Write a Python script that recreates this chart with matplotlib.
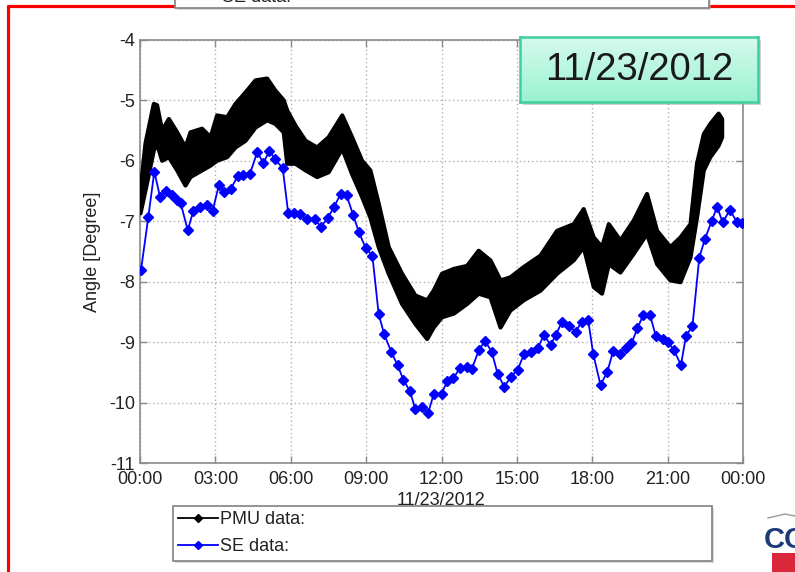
import matplotlib
matplotlib.use("Agg")
import matplotlib.pyplot as plt
import numpy as np
from matplotlib.lines import Line2D
from matplotlib.patches import Rectangle

plt.rcParams['font.family'] = ['Liberation Sans', 'DejaVu Sans']
plt.rcParams['axes.unicode_minus'] = False

# ---- data -------------------------------------------------------------
# State-estimator samples (hour of day, angle in degrees)
se_hours = [0.04, 0.33, 0.57, 0.80, 1.03, 1.29, 1.46, 1.62, 1.90, 2.12, 2.39, 2.65,
            2.89, 3.14, 3.36, 3.62, 3.89, 4.11, 4.38, 4.67, 4.91, 5.15, 5.37, 5.68,
            5.90, 6.14, 6.37, 6.63, 6.96, 7.20, 7.47, 7.72, 7.99, 8.22, 8.49, 8.71,
            8.98, 9.25, 9.50, 9.72, 10.00, 10.25, 10.48, 10.74, 10.96, 11.21, 11.47,
            11.69, 12.00, 12.23, 12.47, 12.73, 13.00, 13.20, 13.49, 13.73, 14.00,
            14.23, 14.50, 14.76, 15.03, 15.28, 15.56, 15.83, 16.08, 16.34, 16.55,
            16.80, 17.07, 17.34, 17.58, 17.84, 18.04, 18.33, 18.60, 18.83, 19.10,
            19.34, 19.56, 19.80, 20.03, 20.30, 20.53, 20.80, 21.00, 21.25, 21.53,
            21.73, 21.99, 22.26, 22.48, 22.75, 22.97, 23.19, 23.48, 23.75, 23.98]
se_angle = [-7.81, -6.93, -6.18, -6.60, -6.50, -6.57, -6.65, -6.70, -7.15, -6.83, -6.76, -6.73,
            -6.83, -6.40, -6.51, -6.46, -6.25, -6.24, -6.21, -5.85, -6.04, -5.83, -5.97, -6.12,
            -6.87, -6.87, -6.88, -6.97, -6.97, -7.09, -6.95, -6.76, -6.55, -6.57, -6.90, -7.18,
            -7.44, -7.57, -8.54, -8.87, -9.16, -9.38, -9.62, -9.81, -10.11, -10.07, -10.17,
            -9.86, -9.85, -9.65, -9.60, -9.43, -9.41, -9.45, -9.13, -8.98, -9.16,
            -9.52, -9.74, -9.57, -9.46, -9.20, -9.16, -9.10, -8.88, -9.05, -8.88,
            -8.66, -8.73, -8.83, -8.66, -8.64, -9.20, -9.71, -9.49, -9.15, -9.19,
            -9.09, -9.02, -8.77, -8.55, -8.55, -8.90, -8.94, -8.99, -9.13, -9.38,
            -8.90, -8.73, -7.60, -7.30, -7.00, -6.76, -7.02, -6.81, -7.01, -7.03]

# PMU measurements: upper / lower extent of the dense trace per hour
pmu_hours = [0.00, 0.20, 0.53, 0.66, 0.86, 1.13, 1.46, 1.79, 1.99, 2.45, 2.79, 3.05,
             3.45, 3.78, 4.18, 4.58, 5.04, 5.37, 5.70, 5.84, 6.17, 6.57, 7.03, 7.49,
             8.03, 8.42, 8.82, 9.15, 9.48, 9.88, 10.41, 10.94, 11.41, 11.67, 12.00,
             12.47, 13.00, 13.46, 13.93, 14.33, 14.72, 15.25, 15.92, 16.58, 17.24,
             17.64, 18.04, 18.37, 18.64, 19.10, 19.63, 20.16, 20.56, 21.09, 21.49,
             21.89, 22.15, 22.42, 22.68, 23.01, 23.15]
pmu_upper = [-6.48, -5.70, -5.05, -5.07, -5.49, -5.30, -5.52, -5.77, -5.52, -5.46, -5.60, -5.24,
             -5.27, -5.05, -4.86, -4.66, -4.63, -4.83, -4.99, -5.16, -5.41, -5.66, -5.77, -5.60,
             -5.24, -5.60, -5.99, -6.15, -6.70, -7.42, -7.86, -8.22, -8.30, -8.14, -7.86,
             -7.78, -7.73, -7.48, -7.64, -7.97, -7.92, -7.75, -7.56, -7.15, -7.04,
             -6.79, -7.26, -7.42, -7.04, -7.31, -6.98, -6.54, -7.15, -7.42, -7.26,
             -7.04, -6.04, -5.55, -5.38, -5.21, -5.30]
pmu_lower = [-6.86, -6.48, -5.82, -5.71, -5.99, -5.93, -6.15, -6.40, -6.26, -6.15, -6.07, -5.99,
             -5.93, -5.77, -5.66, -5.44, -5.32, -5.38, -5.52, -6.04, -6.04, -6.15, -6.26, -6.18,
             -5.79, -6.21, -6.59, -6.93, -7.42, -7.86, -8.36, -8.69, -8.94, -8.75, -8.58,
             -8.52, -8.36, -8.19, -8.25, -8.75, -8.47, -8.30, -8.14, -7.86, -7.64,
             -7.42, -8.08, -8.19, -7.70, -7.84, -7.53, -7.20, -7.70, -7.97, -8.00,
             -7.59, -6.93, -6.15, -5.93, -5.74, -5.60]

x_ticks = [0, 3, 6, 9, 12, 15, 18, 21, 24]
x_tick_labels = ["00:00", "03:00", "06:00", "09:00", "12:00", "15:00", "18:00", "21:00", "00:00"]
y_ticks = [-11, -10, -9, -8, -7, -6, -5, -4]
date_label = "11/23/2012"
legend_labels = ["PMU data:", "SE data:"]

# ---- figure -----------------------------------------------------------
W, H = 795, 572
fig = plt.figure(figsize=(W / 100, H / 100), dpi=100)
fig.patch.set_facecolor('white')


def fx(px):
    return px / W


def fy(py):
    return 1 - py / H


ax = fig.add_axes([fx(140), fy(463), fx(743) - fx(140), fy(40) - fy(463)])

ax.fill_between(pmu_hours, pmu_lower, pmu_upper, facecolor='black',
                edgecolor='black', linewidth=3.0, zorder=3)
ax.plot(se_hours, se_angle, color='#0000ff', linewidth=1.3, marker='D',
        markersize=5, markerfacecolor='#0000ff', markeredgecolor='#0000ff', zorder=4)

ax.set_xlim(0, 24)
ax.set_ylim(-11, -4)
ax.set_xticks(x_ticks)
ax.set_xticklabels(x_tick_labels)
ax.set_yticks(y_ticks)
ax.set_yticklabels([str(v) for v in y_ticks])

ax.grid(True, color='#b0b0b0', linestyle=(0, (1, 2)), linewidth=1.0)
ax.set_axisbelow(True)
for s in ax.spines.values():
    s.set_color('#8a8a8a')
    s.set_linewidth(1.2)
ax.tick_params(direction='in', length=5, width=1, top=True, right=True,
               color='#8a8a8a', labelcolor='#222222', labelsize=13)
ax.tick_params(axis='y', pad=3.5)
ax.tick_params(axis='x', pad=5.5)

ax.set_xlabel(date_label, fontsize=13, color='#222222', labelpad=3)
ax.set_ylabel("Angle [Degree]", fontsize=13, color='#222222', labelpad=6)

# ---- slide frame ------------------------------------------------------
fig.add_artist(Line2D([fx(8), fx(8), fx(800)], [fy(580), fy(6), fy(6)],
                      color='#ff0000', linewidth=2.3, zorder=1))

# legend box partly visible at the top edge
fig.add_artist(Rectangle((fx(177), fy(10)), (709 - 175) / W, 30 / H,
                         facecolor='#bbbbbb', edgecolor='none', alpha=0.5, zorder=2))
fig.add_artist(Rectangle((fx(175), fy(8)), (709 - 175) / W, 30 / H,
                         facecolor='white', edgecolor='#808080', linewidth=1.2, zorder=2))
fig.text(fx(222), fy(2.5), "SE data:", fontsize=13, color='#222222',
         va='baseline', ha='left', zorder=3)

# ---- legend -----------------------------------------------------------
fig.add_artist(Rectangle((fx(175), fy(563)), (712 - 173) / W, (561 - 506) / H,
                         facecolor='#c4c4c4', edgecolor='none', alpha=0.6, zorder=2))
fig.add_artist(Rectangle((fx(173), fy(561)), (712 - 173) / W, (561 - 506) / H,
                         facecolor='white', edgecolor='#808080', linewidth=1.2, zorder=2))
handles = [
    Line2D([], [], color='black', linewidth=1.3, marker='D', markersize=4.5),
    Line2D([], [], color='#0000ff', linewidth=1.3, marker='D', markersize=4.5),
]
leg = fig.legend(handles, legend_labels, loc='upper left',
                 bbox_to_anchor=(fx(178), fy(511)), frameon=False, fontsize=13,
                 handlelength=2.2, handletextpad=0.1, labelspacing=0.55,
                 borderpad=0, borderaxespad=0)
leg.set_zorder(3)
for t in leg.get_texts():
    t.set_color('#222222')

# ---- date call-out ----------------------------------------------------
fig.add_artist(Rectangle((fx(523), fy(105)), (758 - 520) / W, (102 - 37) / H,
                         facecolor='#9a9a9a', edgecolor='none', alpha=0.45, zorder=4))
bax = fig.add_axes([fx(520), fy(102), fx(758) - fx(520), fy(37) - fy(102)], zorder=5)
grad = np.linspace(0, 1, 64).reshape(-1, 1)
top_c = np.array([0.84, 0.98, 0.93])
bot_c = np.array([0.60, 0.95, 0.82])
img = top_c[None, None, :] * (1 - grad[:, :, None]) + bot_c[None, None, :] * grad[:, :, None]
bax.imshow(img, aspect='auto', extent=[0, 1, 0, 1], origin='upper')
bax.set_xlim(0, 1)
bax.set_ylim(0, 1)
bax.set_xticks([])
bax.set_yticks([])
for s in bax.spines.values():
    s.set_color('#3ecf9c')
    s.set_linewidth(1.8)
bax.text(0.5, 0.5, date_label, fontsize=27.5, color='#1a1a1a',
         ha='center', va='center', transform=bax.transAxes)

# ---- corner logo ------------------------------------------------------
fig.text(fx(764), fy(540), "CC", fontsize=21, fontweight='bold', color='#1c3a78',
         ha='left', va='center', zorder=3)
fig.add_artist(Rectangle((fx(772), fy(575)), 30 / W, 22 / H,
                         facecolor='#d8283a', edgecolor='none', zorder=3))
fig.add_artist(Line2D([fx(768), fx(785), fx(800)], [fy(518), fy(514), fy(517)],
                      color='#9a9a9a', linewidth=1.0, zorder=3))

fig.savefig("out.png", dpi=100)
